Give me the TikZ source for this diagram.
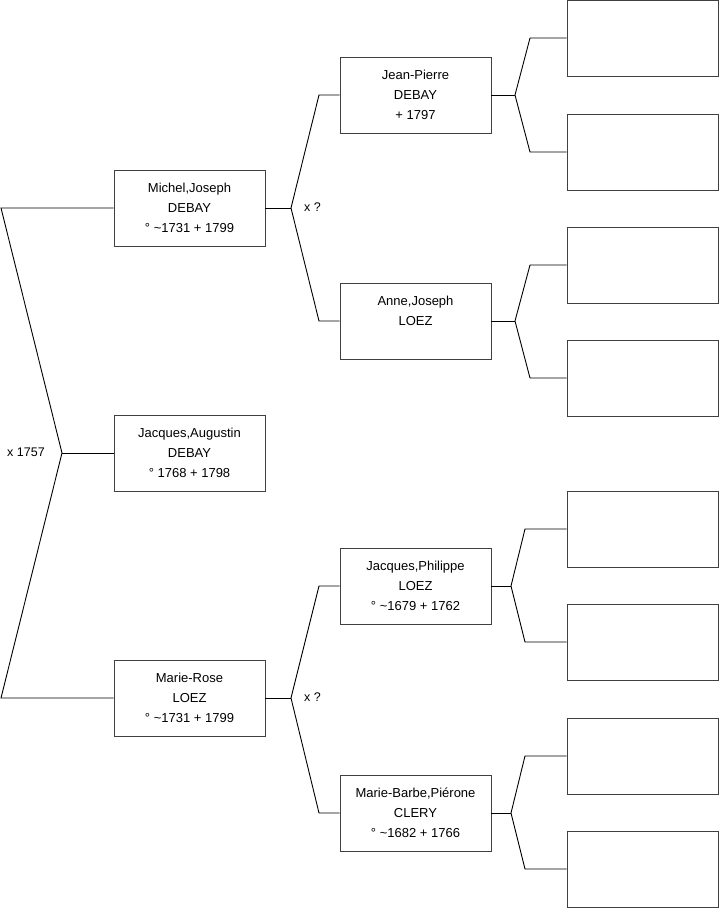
\documentclass[tikz,border=0pt]{standalone}
\usepackage{fontspec}
\setmainfont{Liberation Sans}
\begin{document}
\begin{tikzpicture}[x=1pt,y=-1pt,
  person/.style={draw=black!75, line width=0.9pt, minimum width=151pt, minimum height=76pt, inner sep=0pt, align=center, font=\fontsize{13}{20}\selectfont},
  link/.style={draw=black, line width=0.9pt},
  lbl/.style={anchor=west, inner sep=0pt, font=\fontsize{12.5}{15}\selectfont}]
\useasboundingbox (0,0) rectangle (719,908);
% generation 1
\node[person] (michel) at (189.5,208) {Michel,Joseph\\DEBAY\\° \textasciitilde1731 + 1799};
\node[person] (jacques) at (189.5,453) {Jacques,Augustin\\DEBAY\\° 1768 + 1798};
\node[person] (marierose) at (189.5,698) {Marie-Rose\\LOEZ\\° \textasciitilde1731 + 1799};
% generation 2
\node[person] (jp) at (415.5,95) {Jean-Pierre\\DEBAY\\+ 1797};
\node[person] (anne) at (415.5,321) {Anne,Joseph\\LOEZ\\\vphantom{1}};
\node[person] (jph) at (415.5,586) {Jacques,Philippe\\LOEZ\\° \textasciitilde1679 + 1762};
\node[person] (mb) at (415.5,813) {Marie-Barbe,Piérone\\CLERY\\° \textasciitilde1682 + 1766};
% generation 3
\node[person] (g1) at (642.5,38) {};
\node[person] (g2) at (642.5,152) {};
\node[person] (g3) at (642.5,265) {};
\node[person] (g4) at (642.5,378) {};
\node[person] (g5) at (642.5,529) {};
\node[person] (g6) at (642.5,642) {};
\node[person] (g7) at (642.5,756) {};
\node[person] (g8) at (642.5,869) {};
% bracket 0
\coordinate (t0) at (1,208);
\coordinate (v0) at (62,453);
\coordinate (b0) at (1,698);
\draw[link] (michel.west) -- (t0) -- (v0) -- (b0) -- (marierose.west);
\draw[link] (v0) -- (jacques.west);
\node[lbl] (x0) at (7,452) {x 1757};
% brackets gen1 -> gen2
\coordinate (v1) at (291,208);
\coordinate (a1) at (319,95);
\coordinate (c1) at (319,321);
\draw[link] (michel.east) -- (v1);
\draw[link] (jp.west) -- (a1) -- (v1) -- (c1) -- (anne.west);
\node[lbl] (x1) at (304,207) {x ?};
\coordinate (v2) at (291,698);
\coordinate (a2) at (319,586);
\coordinate (c2) at (319,813);
\draw[link] (marierose.east) -- (v2);
\draw[link] (jph.west) -- (a2) -- (v2) -- (c2) -- (mb.west);
\node[lbl] (x2) at (304,697) {x ?};
% brackets gen2 -> gen3
\coordinate (v3) at (515,95);
\coordinate (a3) at (530,38);
\coordinate (c3) at (530,152);
\draw[link] (jp.east) -- (v3);
\draw[link] (g1.west) -- (a3) -- (v3) -- (c3) -- (g2.west);
\coordinate (v4) at (515,321);
\coordinate (a4) at (530,265);
\coordinate (c4) at (530,378);
\draw[link] (anne.east) -- (v4);
\draw[link] (g3.west) -- (a4) -- (v4) -- (c4) -- (g4.west);
\coordinate (v5) at (511,586);
\coordinate (a5) at (525,529);
\coordinate (c5) at (525,642);
\draw[link] (jph.east) -- (v5);
\draw[link] (g5.west) -- (a5) -- (v5) -- (c5) -- (g6.west);
\coordinate (v6) at (511,813);
\coordinate (a6) at (525,756);
\coordinate (c6) at (525,869);
\draw[link] (mb.east) -- (v6);
\draw[link] (g7.west) -- (a6) -- (v6) -- (c6) -- (g8.west);
\end{tikzpicture}
\end{document}
